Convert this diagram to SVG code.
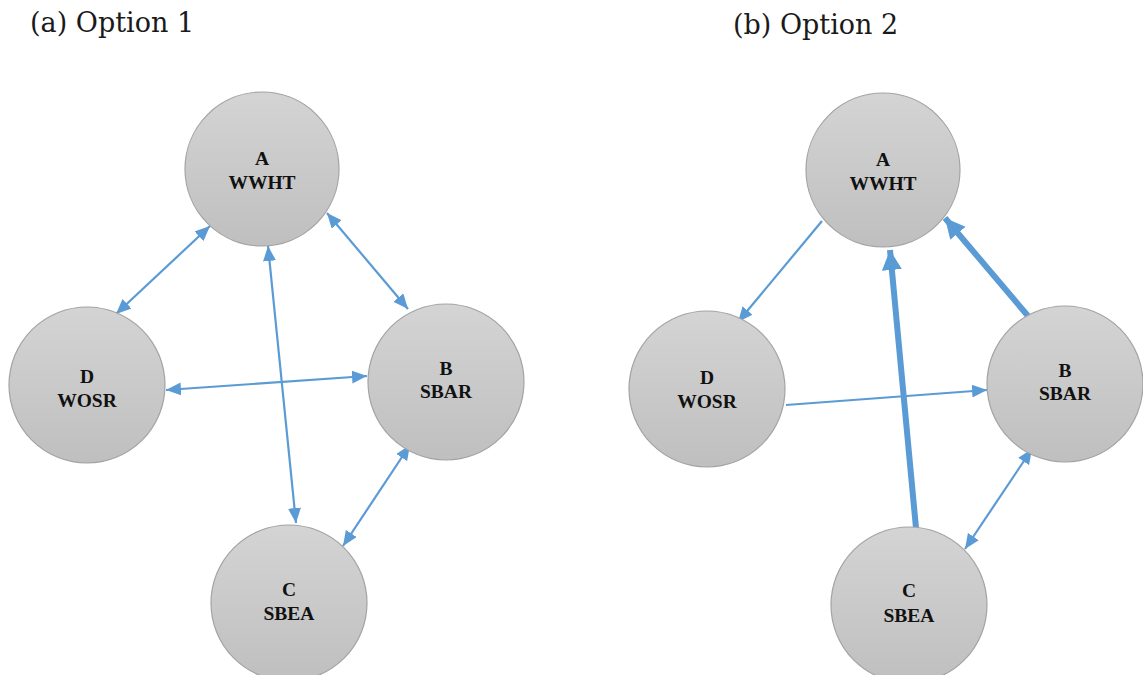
<svg xmlns="http://www.w3.org/2000/svg" width="1143" height="675" viewBox="0 0 1143 675">
  <style>
    .title { font-family: "DejaVu Serif", "Liberation Serif", serif; font-size: 27px; fill: #1a1a1a; }
    .node circle { fill: url(#nodeFill); stroke: #a3a3a3; stroke-width: 1.2; }
    .node text { font-family: "Liberation Serif", "DejaVu Serif", serif; font-size: 19.5px; font-weight: bold; fill: #111; text-anchor: middle; }
    .edge { stroke: #5b9bd5; fill: none; }
    .thin { stroke-width: 2.2; marker-end: url(#head); }
    .both { marker-start: url(#head); }
    .thick { stroke-width: 6; marker-end: url(#headBig); }
  </style>
  <defs>
    <linearGradient id="nodeFill" x1="0" y1="0" x2="0" y2="1">
      <stop offset="0" stop-color="#d4d4d4"/>
      <stop offset="1" stop-color="#bfbfbf"/>
    </linearGradient>
    <marker id="head" markerUnits="userSpaceOnUse" markerWidth="16" markerHeight="14" refX="15" refY="6.5" orient="auto-start-reverse">
      <path d="M0,0 L15,6.5 L0,13 z" fill="#5b9bd5"/>
    </marker>
    <marker id="headBig" markerUnits="userSpaceOnUse" markerWidth="22" markerHeight="22" refX="20" refY="10" orient="auto">
      <path d="M0,0 L20,10 L0,20 z" fill="#5b9bd5"/>
    </marker>
  </defs>

  <text class="title" x="30" y="32">(a) Option 1</text>
  <text class="title" x="733" y="34">(b) Option 2</text>

  <!-- connectors -->
  <g id="connectors">
    <!-- option 1: all two-way -->
    <line class="edge thin both" x1="116" y1="314" x2="210" y2="226"/>
    <line class="edge thin both" x1="408" y1="309" x2="327" y2="213"/>
    <line class="edge thin both" x1="296" y1="523" x2="268" y2="246"/>
    <line class="edge thin both" x1="166" y1="390" x2="367" y2="376"/>
    <line class="edge thin both" x1="343" y1="546" x2="410" y2="445"/>
    <!-- option 2 -->
    <line class="edge thin" x1="822" y1="221" x2="738" y2="322"/>
    <line class="edge thick" x1="1028" y1="316" x2="945" y2="218"/>
    <line class="edge thick" x1="916" y1="528" x2="890" y2="250"/>
    <line class="edge thin" x1="786" y1="405" x2="987" y2="390"/>
    <line class="edge thin both" x1="965" y1="549" x2="1032" y2="449"/>
  </g>

  <!-- option 1 nodes -->
  <g id="a1" class="node">
    <circle cx="262" cy="169" r="77"/>
    <text x="262" y="165">A</text>
    <text x="262" y="189">WWHT</text>
  </g>
  <g id="d1" class="node">
    <circle cx="87" cy="385" r="78"/>
    <text x="87" y="383">D</text>
    <text x="87" y="407">WOSR</text>
  </g>
  <g id="b1" class="node">
    <circle cx="446" cy="382" r="78"/>
    <text x="446" y="375">B</text>
    <text x="446" y="398">SBAR</text>
  </g>
  <g id="c1" class="node">
    <circle cx="289" cy="603" r="78"/>
    <text x="289" y="596">C</text>
    <text x="289" y="620">SBEA</text>
  </g>

  <!-- option 2 nodes -->
  <g id="a2" class="node">
    <circle cx="883" cy="170" r="77"/>
    <text x="883" y="166">A</text>
    <text x="883" y="190">WWHT</text>
  </g>
  <g id="d2" class="node">
    <circle cx="707" cy="389" r="78"/>
    <text x="707" y="384">D</text>
    <text x="707" y="408">WOSR</text>
  </g>
  <g id="b2" class="node">
    <circle cx="1065" cy="384" r="78"/>
    <text x="1065" y="377">B</text>
    <text x="1065" y="400">SBAR</text>
  </g>
  <g id="c2" class="node">
    <circle cx="909" cy="605" r="78"/>
    <text x="909" y="597">C</text>
    <text x="909" y="622">SBEA</text>
  </g>
</svg>
